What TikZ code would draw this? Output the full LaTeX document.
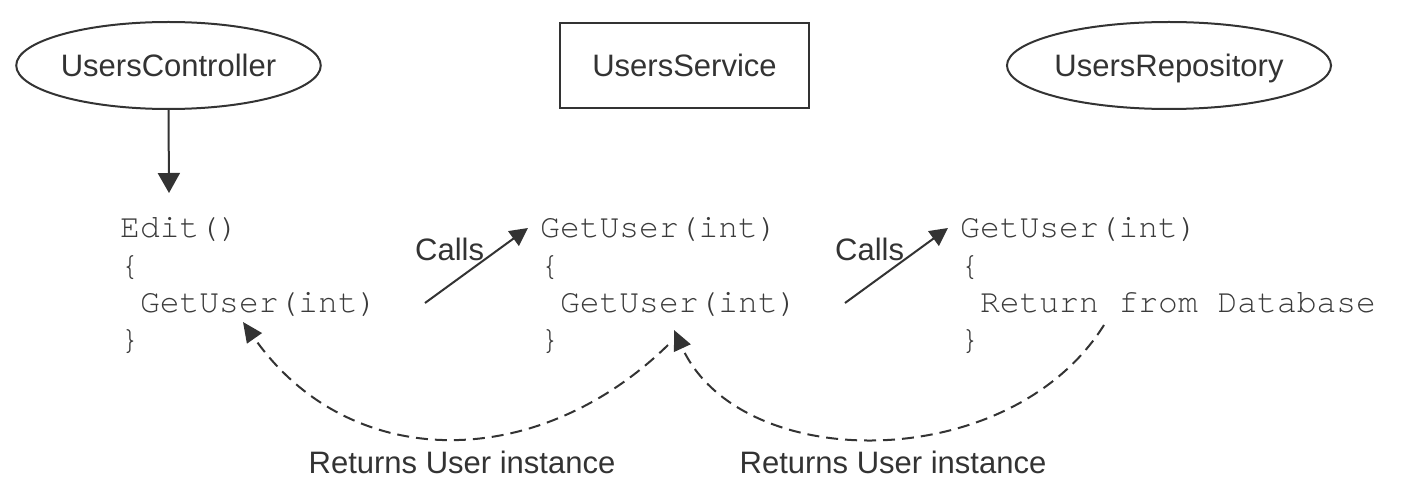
\documentclass[tikz,border=0pt]{standalone}
\usepackage{fontspec}
\setmainfont{Liberation Sans}
\setmonofont{texgyrecursor-regular.otf}
\usetikzlibrary{shapes.geometric,arrows.meta,calc}
\definecolor{ink}{HTML}{333333}
\definecolor{codeink}{HTML}{3A3A3A}
\begin{document}
\begin{tikzpicture}[x=1pt,y=-1pt,
  every node/.style={text=ink},
  lbl/.style={font=\fontsize{31}{37}\selectfont, inner sep=0pt},
  ellbox/.style={ellipse, draw=ink, line width=2pt, inner sep=0pt,
    font=\fontsize{31}{37}\selectfont, text depth=0pt},
  rectbox/.style={rectangle, draw=ink, line width=2pt, inner sep=0pt,
    font=\fontsize{31}{37}\selectfont, text depth=0pt},
  code/.style={font=\ttfamily\fontsize{33}{37}\selectfont, text=codeink,
    inner sep=0pt, anchor=base west},
  solidarrow/.style={draw=ink, line width=2pt, -{Triangle[length=20pt,width=22pt]}},
  callarrow/.style={draw=ink, line width=2pt, -{Triangle[length=18pt,width=18pt]}},
  retarrow/.style={draw=ink, line width=2pt, dash pattern=on 12pt off 7pt,
    -{Triangle[length=20pt,width=18pt]}},
]
\useasboundingbox (0,0) rectangle (1403,497);

% top elements
\node[ellbox, minimum width=291pt, minimum height=87pt] (ctrl) at (168.5,65.5) {UsersController};
\node[rectbox, minimum width=249pt, minimum height=85pt] (svc) at (684.5,65.5) {UsersService};
\node[ellbox, minimum width=294pt, minimum height=87pt] (repo) at (1169,65.5) {UsersRepository};

% code block 1
\node[code] (a1) at (120,238) {Edit()};
\node[code] (a2) at (120,275) {\{};
\node[code] (a3) at (120,312) {\phantom{G}GetUser(int)};
\node[code] (a4) at (120,349) {\}};

% code block 2
\node[code] (b1) at (540,238) {GetUser(int)};
\node[code] (b2) at (540,275) {\{};
\node[code] (b3) at (540,312) {\phantom{G}GetUser(int)};
\node[code] (b4) at (540,349) {\}};

% code block 3
\node[code] (c1) at (960,238) {GetUser(int)};
\node[code] (c2) at (960,275) {\{};
\node[code] (c3) at (960,312) {\phantom{R}Return from Database};
\node[code] (c4) at (960,349) {\}};

% down arrow
\coordinate (ctrlend) at (169,193);
\draw[solidarrow] (ctrl.south) -- (ctrlend);

% calls arrows
\coordinate (k1s) at (425,303);
\coordinate (k1e) at (528,228);
\coordinate (k2s) at (845,303);
\coordinate (k2e) at (948,228);
\draw[callarrow] (k1s) -- (k1e);
\draw[callarrow] (k2s) -- (k2e);
\node[lbl, anchor=base west] (calls1) at (415,260) {Calls};
\node[lbl, anchor=base west] (calls2) at (835,260) {Calls};

% return arrows
\coordinate (r1s) at (668,345);
\coordinate (r1e) at (243,322);
\coordinate (r2s) at (1104,325);
\coordinate (r2e) at (674,330);
\draw[retarrow] (r1s) .. controls (537,473) and (349,473) .. (r1e);
\draw[retarrow] (r2s) .. controls (1010,475) and (741,475) .. (r2e);
\node[lbl, anchor=base] (ret1) at (462,473) {Returns User instance};
\node[lbl, anchor=base] (ret2) at (893,473) {Returns User instance};
\end{tikzpicture}
\end{document}
